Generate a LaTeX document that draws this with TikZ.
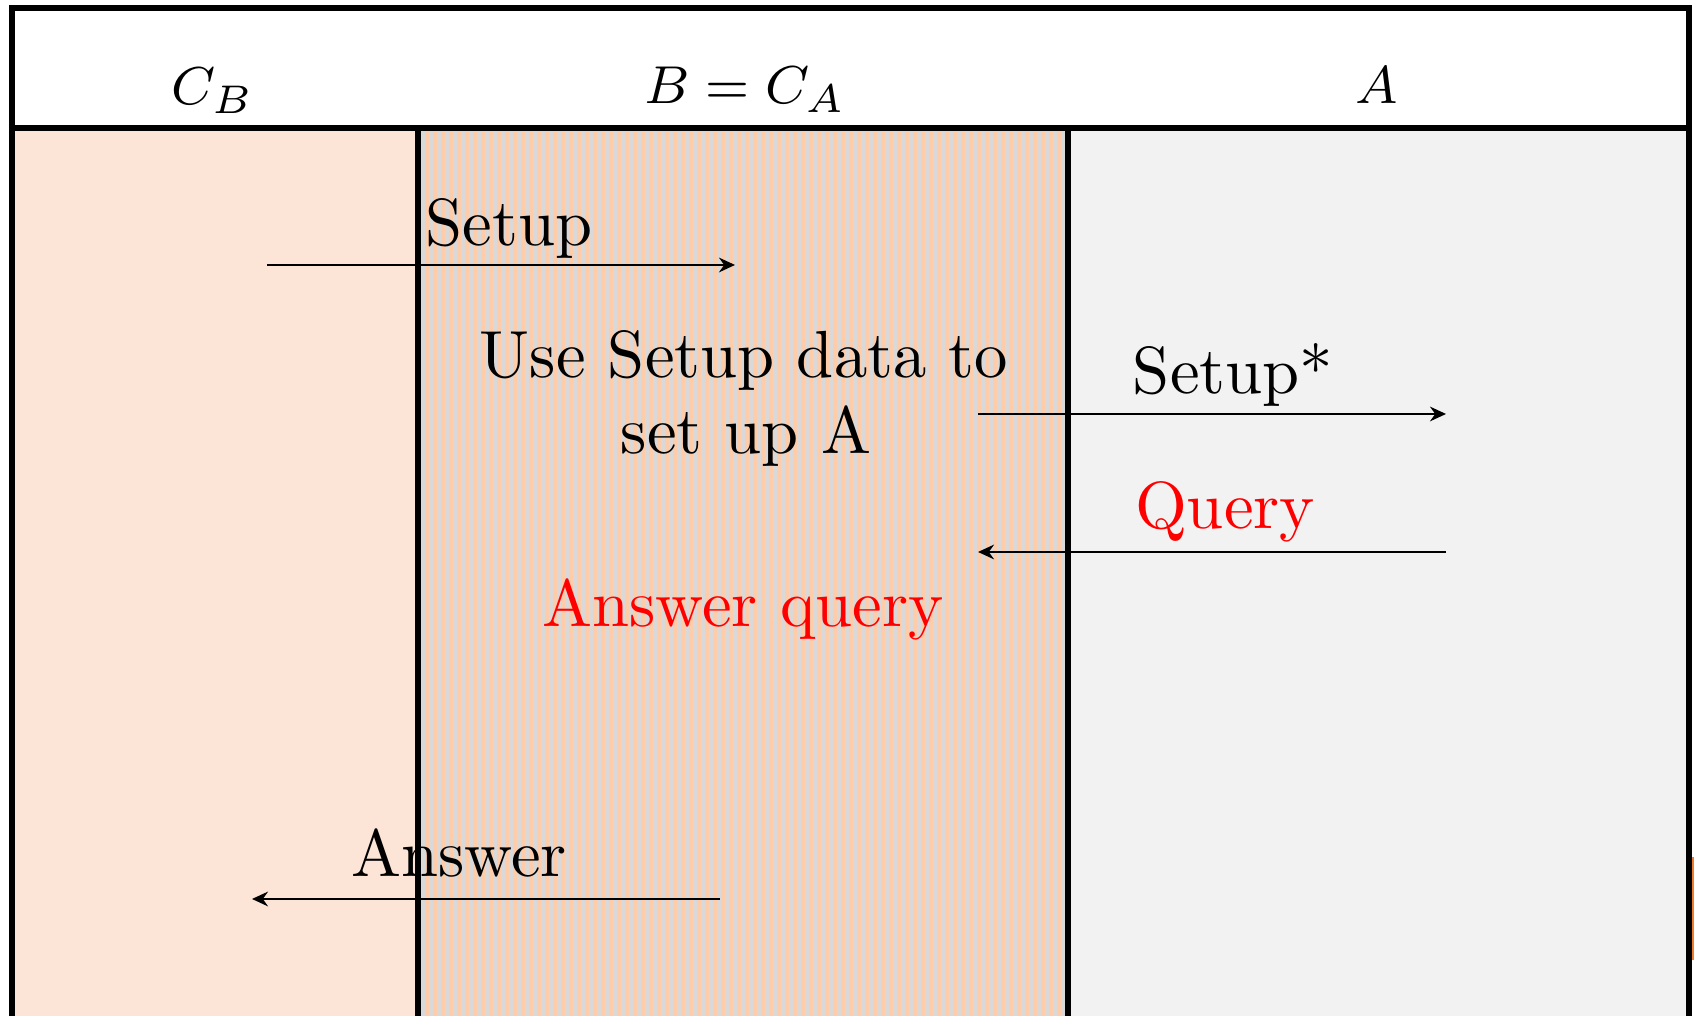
\documentclass[tikz,border=0pt]{standalone}
\usetikzlibrary{arrows.meta}
\definecolor{leftcol}{RGB}{252,229,214}
\definecolor{peach}{RGB}{255,204,170}
\definecolor{stripegray}{RGB}{217,217,217}
\definecolor{rightcol}{RGB}{242,242,242}
\definecolor{orangemark}{RGB}{237,125,49}
\begin{document}
\begin{tikzpicture}[x=0.15pt,y=-0.15pt,
 lbl/.style={inner sep=0pt, anchor=base, font=\fontsize{10}{12}\selectfont},
 hdr/.style={inner sep=0pt, anchor=base, font=\fontsize{7.9}{9}\selectfont},
 msg/.style={line width=0.33pt, -{Stealth[length=2.4pt,width=2.2pt]}},
 frameline/.style={line width=0.8pt}]
\useasboundingbox (0,0) rectangle (1694,1016);
% columns
\fill[leftcol] (12,128) rectangle (418,1016);
\fill[peach] (418,128) rectangle (1068,1016);
\foreach \i in {0,...,80} \fill[stripegray] ({421+8*\i},128) rectangle ({425+8*\i},1016);
\fill[rightcol] (1068,128) rectangle (1689,1016);
\fill[orangemark] (1691,857) rectangle (1694,960);
% frame
\draw[frameline] (12,1016) -- (12,8) -- (1689,8) -- (1689,1016);
\draw[frameline] (12,128) -- (1689,128);
\draw[frameline] (418,128) -- (418,1016);
\draw[frameline] (1068,128) -- (1068,1016);
% headers
\node[hdr] (hcb) at (213,105) {$C_B$};
\node[hdr] (hb) at (745,104) {$B=C_A$};
\node[hdr] (ha) at (1377,104) {$A$};
% labels
\node[lbl] (setup) at (509,246) {Setup};
\node[lbl] (use1) at (744,378) {Use Setup data to};
\node[lbl] (use2) at (746,454) {set up A};
\node[lbl] (setupstar) at (1233,394) {Setup*};
\node[lbl, text=red] (query) at (1225,529) {Query};
\node[lbl, text=red] (ansq) at (743,627) {Answer query};
\node[lbl] (answer) at (459,877) {Answer};
% arrows
\coordinate (s1a) at (267,265);
\coordinate (s1b) at (735,265);
\coordinate (s2a) at (978,414);
\coordinate (s2b) at (1446,414);
\coordinate (q1) at (1446,552);
\coordinate (q2) at (978,552);
\coordinate (a1) at (720,899);
\coordinate (a2) at (252,899);
\draw[msg] (s1a) -- (s1b);
\draw[msg] (s2a) -- (s2b);
\draw[msg] (q1) -- (q2);
\draw[msg] (a1) -- (a2);
\end{tikzpicture}
\end{document}
